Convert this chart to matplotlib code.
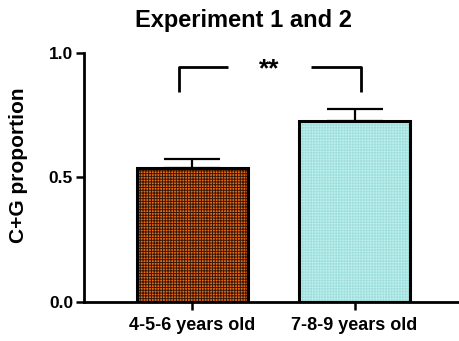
import numpy as np
import matplotlib.pyplot as plt

plt.rcParams['font.family'] = ['Liberation Sans', 'DejaVu Sans']
plt.rcParams['font.weight'] = 'bold'
plt.rcParams['hatch.linewidth'] = 0.7

groups = ['4-5-6 years old', '7-8-9 years old']
means = [0.538, 0.727]
sems = [0.036, 0.046]
face_colors = ['#e86a14', '#98dcda']
hatch_colors = ['#3a1806', '#b8ecea']

x = np.arange(len(groups))

fig = plt.figure(figsize=(4.6, 3.41), dpi=100)
ax = fig.add_axes([0.183, 0.114, 0.817, 0.731])

for i in range(len(groups)):
    ax.bar(x[i], means[i], width=0.68, color=face_colors[i], edgecolor=hatch_colors[i],
           hatch='++++++', linewidth=0, zorder=2)
    ax.bar(x[i], means[i], width=0.68, fill=False, edgecolor='black', linewidth=2.2, zorder=3)
    ax.errorbar(x[i], means[i], yerr=[[0], [sems[i]]], color='black', capsize=20,
                elinewidth=1.6, capthick=1.6, zorder=1)

# significance bracket
ax.plot([-0.08, -0.08, 0.22], [0.843, 0.944, 0.944], color='black', lw=2, solid_capstyle='butt')
ax.plot([0.73, 1.04, 1.04], [0.944, 0.944, 0.843], color='black', lw=2, solid_capstyle='butt')
ax.text(0.475, 0.935, '**', ha='center', va='center', fontsize=19, fontweight='bold')

ax.set_xlim(-0.667, 1.65)
ax.set_ylim(0, 1.0)
ax.set_yticks([0.0, 0.5, 1.0])
ax.set_yticklabels(['0.0', '0.5', '1.0'])
ax.set_xticks(x)
ax.set_xticklabels(groups)
ax.tick_params(axis='both', width=1.8, length=6, labelsize=12.5)
ax.tick_params(axis='x', labelsize=13, pad=5)
ax.tick_params(axis='y', pad=2)
for s in ['top', 'right']:
    ax.spines[s].set_visible(False)
for s in ['left', 'bottom']:
    ax.spines[s].set_linewidth(2)
ax.set_ylabel('C+G proportion', fontsize=15, fontweight='bold')
ax.yaxis.set_label_coords(-0.15, 0.55)
fig.text(0.53, 0.94, 'Experiment 1 and 2', ha='center', va='center', fontsize=17, fontweight='bold')

fig.savefig('out.png', dpi=100)
